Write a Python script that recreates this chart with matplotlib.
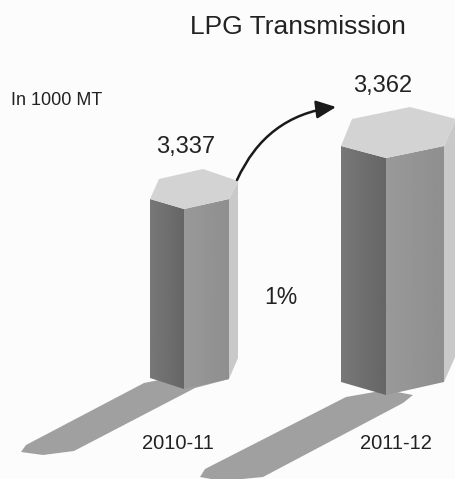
import numpy as np
import matplotlib
matplotlib.use("Agg")
import matplotlib.pyplot as plt
from matplotlib.patches import Polygon, FancyArrowPatch

plt.rcParams["font.family"] = ["Liberation Sans", "DejaVu Sans"]

# Chart values
years = ["2010-11", "2011-12"]
volumes = [3337, 3362]
growth = "1%"
title = "LPG Transmission"
unit = "In 1000 MT"

# Outline of each drawn column, in image pixels
tops = [
    [(150, 199), (159, 179), (203, 169), (238, 181), (229, 199), (184, 209)],
    [(341, 146), (352, 119), (410, 107), (456, 119), (444, 146), (386, 158)],
]
bottoms = [
    {"left": 378, "mid": 389, "right": 379, "back": 358},
    {"left": 382, "mid": 395, "right": 382, "back": 355},
]
shadows = [
    [(144, 383), (26, 445), (21, 452), (43, 455), (74, 451), (195, 388), (229, 379), (184, 375)],
    [(346, 397), (205, 469), (200, 477), (222, 481), (263, 477), (403, 403), (413, 395), (386, 390)],
]
year_x = [177.5, 396]
year_base = 449
value_pos = [(185.5, 153), (383, 92)]


def shaded(ax, pts, c0, c1):
    # Polygon filled by a left to right grey ramp
    xs, ys = zip(*pts)
    patch = Polygon(pts, closed=True, facecolor="none", edgecolor="none")
    ax.add_patch(patch)
    im = ax.imshow(np.linspace(c0, c1, 64).reshape(1, -1), cmap="gray", vmin=0, vmax=1,
                   extent=(min(xs), max(xs), max(ys), min(ys)), aspect="auto", zorder=2)
    im.set_clip_path(patch)


fig = plt.figure(figsize=(4.55, 4.79), dpi=100, facecolor="#fcfcfc")
ax = fig.add_axes([0, 0, 1, 1])
ax.set_facecolor("#fcfcfc")

for top, bot, shadow in zip(tops, bottoms, shadows):
    ax.add_patch(Polygon(shadow, closed=True, facecolor="#a0a0a0", edgecolor="none", zorder=1))
    p_left, _, _, p_back, p_right, p_mid = top
    shaded(ax, [p_left, p_mid, (p_mid[0], bot["mid"]), (p_left[0], bot["left"])], 0.47, 0.40)
    shaded(ax, [p_mid, p_right, (p_right[0], bot["right"]), (p_mid[0], bot["mid"])], 0.60, 0.56)
    ax.add_patch(Polygon([p_right, p_back, (p_back[0], bot["back"]), (p_right[0], bot["right"])],
                         closed=True, facecolor="#c9c9c9", edgecolor="none", zorder=3))
    ax.add_patch(Polygon(top, closed=True, facecolor="#d3d3d3", edgecolor="none", zorder=4))

ax.add_patch(FancyArrowPatch((237, 180), (336, 107), connectionstyle="arc3,rad=-0.28",
                             arrowstyle="-|>,head_length=12,head_width=5.5", lw=1.8,
                             color="#1a1a1a", shrinkA=0, shrinkB=0, zorder=5))

ax.text(298, 34, title, fontsize=19, color="#222222", ha="center", va="baseline")
ax.text(11, 105, unit, fontsize=13, color="#222222", ha="left", va="baseline")
for v, (x, y) in zip(volumes, value_pos):
    ax.text(x, y, f"{v:,}", fontsize=17, color="#222222", ha="center", va="baseline")
for yr, x in zip(years, year_x):
    ax.text(x, year_base, yr, fontsize=14.5, color="#222222", ha="center", va="baseline")
ax.text(280.5, 304, growth, fontsize=16.5, color="#222222", ha="center", va="baseline")

ax.set_xlim(0, 455)
ax.set_ylim(479, 0)
ax.axis("off")
fig.savefig("out.png", dpi=100, facecolor=fig.get_facecolor())
